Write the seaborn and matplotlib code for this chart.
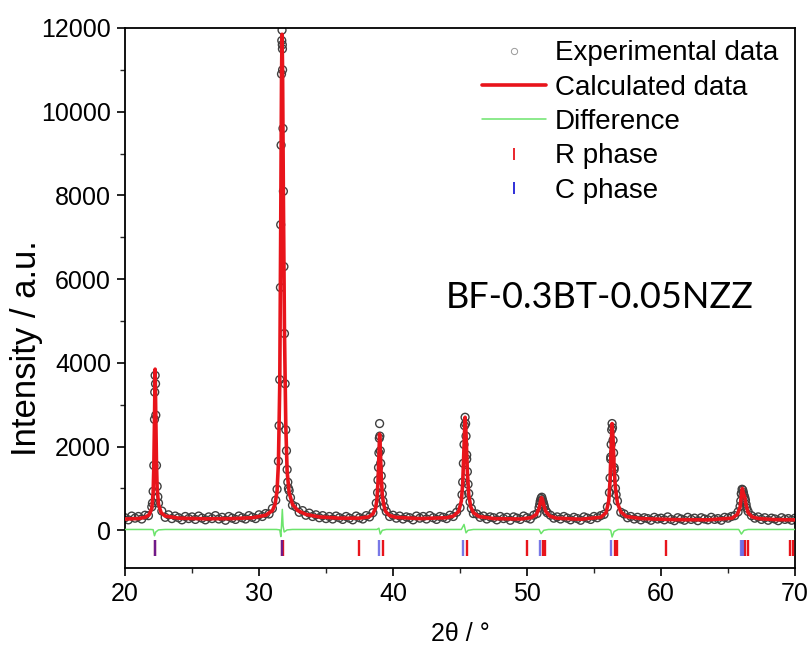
import numpy as np
import pandas as pd
import seaborn as sns
import matplotlib.pyplot as plt
from matplotlib.ticker import MultipleLocator
from matplotlib.lines import Line2D

# ---------------- data ----------------
# experimental step scan: start/step of the background scan + intensities
exp_scan_start = 20.0
exp_scan_step = 0.25
exp_scan_intensity = [
    300, 250, 340, 290, 330, 270, 360, 350, 560, 3700,
    650, 460, 310, 370, 280, 340, 300, 250, 330, 280,
    320, 260, 340, 290, 250, 320, 280, 350, 270, 310,
    240, 330, 290, 260, 340, 300, 270, 350, 310, 280,
    370, 330, 400, 390, 520, 720, 2500, 11500, 2400, 950,
    600, 560, 430, 470, 360, 410, 330, 370, 300, 350,
    280, 330, 270, 340, 300, 260, 330, 290, 250, 340,
    300, 270, 350, 320, 420, 650, 2550, 700, 450, 330,
    360, 290, 340, 270, 320, 300, 250, 340, 290, 330,
    270, 350, 300, 260, 330, 310, 280, 360, 330, 430,
    540, 1600, 1700, 680, 400, 390, 310, 340, 270, 320,
    300, 250, 330, 280, 310, 240, 320, 290, 260, 340,
    300, 270, 360, 400, 700, 620, 420, 360, 290, 320,
    270, 330, 290, 250, 310, 280, 240, 320, 290, 260,
    330, 300, 350, 380, 560, 1750, 1450, 700, 430, 390,
    300, 330, 270, 310, 250, 300, 280, 240, 310, 270,
    290, 250, 320, 260, 230, 300, 270, 240, 310, 260,
    290, 230, 300, 270, 250, 310, 260, 280, 240, 310,
    290, 330, 350, 440, 880, 780, 450, 350, 290, 320,
    260, 300, 240, 290, 270, 230, 300, 260, 280, 240,
    290,
]
# extra experimental points recorded on the peak flanks
exp_peak_two_theta = [
    22.05, 22.10, 22.15, 22.20, 22.22, 22.28, 22.30, 22.35, 22.40, 22.45,
    31.35, 31.45, 31.55, 31.60, 31.62, 31.65, 31.68, 31.70, 31.72, 31.74,
    31.76, 31.79, 31.82, 31.86, 31.90, 31.95, 32.05, 32.10, 32.15, 32.20, 32.35,
    38.85, 38.88, 38.92, 38.95, 38.98, 39.02, 39.05, 39.08, 39.12, 39.16, 39.20, 39.35,
    45.15, 45.20, 45.30, 45.34, 45.38, 45.42, 45.45, 45.50, 45.55, 45.60, 45.65, 45.85,
    50.90, 50.95, 51.00, 51.05, 51.10, 51.15, 51.20, 51.30, 51.40,
    56.15, 56.20, 56.25, 56.28, 56.32, 56.35, 56.38, 56.42, 56.46, 56.50, 56.55, 56.60, 56.65,
    65.90, 65.95, 66.00, 66.05, 66.10, 66.15, 66.20, 66.30, 66.35, 66.40,
]
exp_peak_intensity = [
    650, 930, 1550, 2650, 3300, 3500, 2750, 1550, 1050, 800,
    980, 1650, 3600, 5800, 7300, 9200, 10900, 11700, 11950, 11600,
    11000, 9600, 8100, 6300, 4700, 3500, 1900, 1450, 1150, 1000, 780,
    900, 1200, 1500, 1850, 2200, 2250, 1900, 1600, 1300, 1050, 870, 560,
    850, 1150, 2050, 2500, 2700, 2550, 2250, 1800, 1400, 1100, 880, 520,
    540, 620, 690, 760, 790, 730, 680, 560, 470,
    900, 1250, 1700, 2050, 2400, 2550, 2450, 2150, 1850, 1500, 1250, 1000, 850,
    570, 700, 870, 980, 960, 900, 830, 720, 620, 530,
]

calc_two_theta = [
    20.0, 21.0, 21.5, 21.8, 22.0, 22.1, 22.15, 22.2, 22.25, 22.3, 22.35, 22.4, 22.5, 22.7, 23.0,
    24.0, 26.0, 28.0, 29.5, 30.5, 31.0, 31.2, 31.35, 31.45, 31.55, 31.62, 31.68, 31.72, 31.76,
    31.82, 31.9, 32.0, 32.1, 32.25, 32.5, 32.9, 33.5, 34.5, 36.0, 37.5, 38.2, 38.5, 38.7, 38.8,
    38.88, 38.95, 39.0, 39.05, 39.12, 39.2, 39.3, 39.45, 39.7, 40.2, 42.0, 44.0, 44.5, 44.9,
    45.1, 45.2, 45.3, 45.38, 45.45, 45.55, 45.65, 45.8, 46.0, 46.4, 47.5, 49.5, 50.3, 50.7,
    50.9, 51.0, 51.08, 51.15, 51.25, 51.4, 51.7, 52.2, 54.0, 55.5, 55.9, 56.1, 56.2, 56.28,
    56.35, 56.42, 56.5, 56.6, 56.75, 57.0, 57.4, 58.5, 61.0, 63.5, 65.3, 65.7, 65.9, 66.0,
    66.07, 66.15, 66.25, 66.35, 66.5, 66.8, 67.3, 68.5, 70.0,
]
calc_intensity = [
    270, 280, 310, 370, 520, 900, 1500, 2600, 3850, 2700, 1600, 1000, 620, 420, 340,
    290, 275, 280, 300, 360, 470, 620, 950, 1600, 3500, 7200, 10800, 11850, 11000,
    8000, 4800, 2500, 1400, 900, 620, 470, 380, 320, 290, 290, 320, 390, 530, 730,
    1150, 1800, 2300, 1950, 1300, 850, 620, 450, 360, 310, 280, 300, 340, 450,
    700, 1100, 2000, 2700, 2300, 1400, 850, 560, 420, 330, 280, 270, 300, 380,
    520, 680, 780, 740, 600, 450, 340, 290, 265, 310, 420, 700, 1200, 2000,
    2550, 2200, 1500, 1000, 650, 440, 330, 280, 255, 250, 290, 380, 550, 850,
    1000, 880, 800, 600, 420, 320, 280, 255, 250,
]

diff_two_theta = [
    20.0, 21.9, 22.1, 22.2, 22.3, 22.5, 23.0, 31.3, 31.55, 31.63, 31.68, 31.74, 31.8, 31.88,
    32.1, 32.5, 38.8, 38.95, 39.05, 39.2, 39.5, 45.1, 45.3, 45.45, 45.6, 46.0, 50.9, 51.05,
    51.25, 51.6, 56.1, 56.25, 56.35, 56.5, 56.8, 65.8, 66.0, 66.2, 66.5, 70.0,
]
diff_intensity = [
    20, 20, 15, -130, -40, 10, 20, 20, 10, -150, 100, 500, 100, -40,
    10, 20, 20, 50, -90, 0, 20, 20, 140, -60, 0, 20, 20, -80,
    0, 20, 20, 0, -160, -30, 20, 20, -90, 0, 20, 20,
]

r_phase_positions = [22.25, 31.68, 31.78, 37.45, 39.25, 45.52, 50.0, 51.2, 51.35,
                     56.55, 56.72, 60.35, 66.25, 66.5, 69.6, 69.82]
c_phase_positions = [22.22, 31.7, 38.97, 45.22, 50.98, 56.25, 65.98, 66.15]

x_ticks = [20, 30, 40, 50, 60, 70]
y_ticks = [0, 2000, 4000, 6000, 8000, 10000, 12000]
legend_labels = ["Experimental data", "Calculated data", "Difference", "R phase", "C phase"]
sample_label = "BF-0.3BT-0.05NZZ"

# ---------------- build tables ----------------
scan_tt = exp_scan_start + exp_scan_step * np.arange(len(exp_scan_intensity))
exp_df = pd.DataFrame({
    "two_theta": np.concatenate([scan_tt, exp_peak_two_theta]),
    "intensity": np.concatenate([exp_scan_intensity, exp_peak_intensity]),
})
calc_df = pd.DataFrame({"two_theta": calc_two_theta, "intensity": calc_intensity})
diff_df = pd.DataFrame({"two_theta": diff_two_theta, "intensity": diff_intensity})

# ---------------- style ----------------
sns.set_theme(style="ticks")
plt.rcParams["font.family"] = ["Liberation Sans", "DejaVu Sans"]
plt.rcParams["text.color"] = "black"
plt.rcParams["axes.labelcolor"] = "black"

RED = "#e8141b"
GREEN = "#6ce46c"
GRAY = "#3f3f3f"
BLUE = "#1f1fd6"
TICK_LEVEL = -430

fig = plt.figure(figsize=(8.09, 6.48), dpi=100)
ax = fig.add_axes([0.1545, 0.1235, 0.8282, 0.8333])

sns.scatterplot(data=exp_df, x="two_theta", y="intensity", marker="o", s=32,
                facecolors="none", edgecolor=GRAY, linewidth=1.0, ax=ax,
                zorder=2, legend=False)
sns.lineplot(data=calc_df, x="two_theta", y="intensity", color=RED, lw=2.6,
             sort=False, estimator=None, ax=ax, zorder=3, legend=False)
sns.lineplot(data=diff_df, x="two_theta", y="intensity", color=GREEN, lw=1.1,
             sort=False, estimator=None, ax=ax, zorder=3, legend=False)

ax.plot(r_phase_positions, [TICK_LEVEL] * len(r_phase_positions), ls="none",
        marker="|", ms=11, mew=1.7, color=RED, zorder=4)
ax.plot(c_phase_positions, [TICK_LEVEL] * len(c_phase_positions), ls="none",
        marker="|", ms=11, mew=1.7, color=BLUE, alpha=0.6, zorder=5)

ax.set_xlim(20, 70)
ax.set_ylim(-900, 12000)
ax.set_xticks(x_ticks)
ax.set_yticks(y_ticks)
ax.xaxis.set_minor_locator(MultipleLocator(5))
ax.yaxis.set_minor_locator(MultipleLocator(1000))
ax.tick_params(which="major", direction="out", length=6, width=1.2, pad=4,
               labelsize=18, colors="black", top=False, right=False)
ax.tick_params(which="minor", direction="out", length=3.5, width=1.0,
               top=False, right=False)
for sp in ax.spines.values():
    sp.set_visible(True)
    sp.set_linewidth(1.3)
    sp.set_color("black")

ax.set_xlabel("2θ / °", fontsize=18)
ax.xaxis.set_label_coords(0.5, -0.1)
ax.set_ylabel("Intensity / a.u.", fontsize=25)
ax.yaxis.set_label_coords(-0.122, 0.407)

handles = [
    Line2D([], [], ls="none", marker="o", ms=4.5, mfc="none", mec="#999999", mew=0.7),
    Line2D([], [], color=RED, lw=2.6),
    Line2D([], [], color=GREEN, lw=1.1),
    Line2D([], [], ls="none", marker="|", ms=9, mew=1.3, color=RED),
    Line2D([], [], ls="none", marker="|", ms=9, mew=1.3, color=BLUE),
]
ax.legend(handles, legend_labels, loc="upper right", frameon=False, fontsize=20,
          handlelength=2.3, handletextpad=0.3, labelspacing=0.3,
          borderaxespad=0.05, bbox_to_anchor=(0.993, 1.0))

ax.text(0.478, 0.50, sample_label, transform=ax.transAxes, fontsize=26,
        family=["Lato", "DejaVu Sans"], va="center", ha="left", color="black")

fig.savefig("out.png", dpi=100)
